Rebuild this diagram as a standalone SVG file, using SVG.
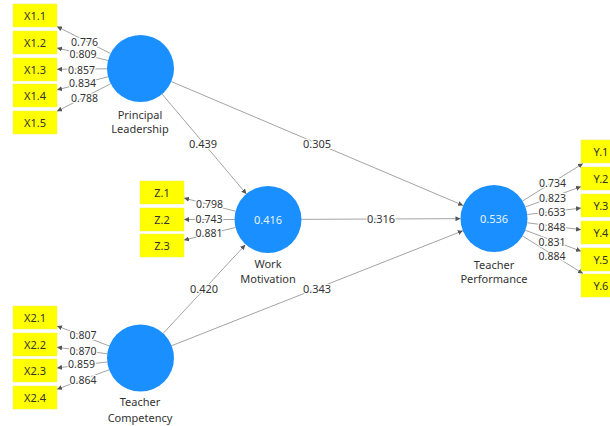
<svg xmlns="http://www.w3.org/2000/svg" width="610" height="426" viewBox="0 0 610 426">
<defs>
<marker id="ah" markerUnits="userSpaceOnUse" markerWidth="5" markerHeight="5" refX="5" refY="2.5" orient="auto">
<path d="M0,0 L5,2.5 L0,5 z" fill="#555"/>
</marker>
<style>
text{font-family:"Noto Sans","Liberation Sans",sans-serif;font-size:11px;fill:#333;text-anchor:middle}
.box{fill:#ffff00;stroke:#eeee44;stroke-width:0.5}
.lv{fill:#1a8fff}
.r2{fill:#e6f2ff}
.ln{stroke:#8c8c8c;stroke-width:0.8;fill:none;marker-end:url(#ah)}
.lbl{paint-order:stroke;stroke:#fff;stroke-width:2.5px;stroke-linejoin:round}
.ld{font-size:10.5px}
</style>
</defs>
<rect width="610" height="426" fill="#fff"/>
<g id="connectors">
<line class="ln" x1="110.56" y1="53.46" x2="57" y2="26.55"/>
<line class="ln" x1="107.97" y1="60.48" x2="57" y2="47.92"/>
<line class="ln" x1="107" y1="68.82" x2="57" y2="69.29"/>
<line class="ln" x1="108.05" y1="76.81" x2="57" y2="89.87"/>
<line class="ln" x1="110.68" y1="83.76" x2="57" y2="111.24"/>
<line class="ln" x1="235.53" y1="211.23" x2="184" y2="198.1"/>
<line class="ln" x1="234.5" y1="219.5" x2="184" y2="219.5"/>
<line class="ln" x1="235.46" y1="227.48" x2="184" y2="240.1"/>
<line class="ln" x1="109.23" y1="345.99" x2="57" y2="325.94"/>
<line class="ln" x1="107.27" y1="353.75" x2="57" y2="347.31"/>
<line class="ln" x1="107.23" y1="361.94" x2="57" y2="367.89"/>
<line class="ln" x1="109.13" y1="369.75" x2="57" y2="389.26"/>
<line class="ln" x1="522.54" y1="200.96" x2="583" y2="163.5"/>
<line class="ln" x1="525.45" y1="206.96" x2="581" y2="186.6"/>
<line class="ln" x1="527.26" y1="214.53" x2="581" y2="208.1"/>
<line class="ln" x1="527.23" y1="222.77" x2="581" y2="229.7"/>
<line class="ln" x1="525.35" y1="230.29" x2="581" y2="251.2"/>
<line class="ln" x1="522.54" y1="236.04" x2="583" y2="273.5"/>
<line class="ln" x1="162.11" y1="94.1" x2="246.39" y2="193.9"/>
<line class="ln" x1="171.34" y1="81.59" x2="463.16" y2="205.41"/>
<line class="ln" x1="301.5" y1="219.35" x2="460.5" y2="218.65"/>
<line class="ln" x1="163.19" y1="333.35" x2="245.31" y2="244.85"/>
<line class="ln" x1="171.66" y1="345.7" x2="462.84" y2="230.8"/>
<text class="lbl ld" x="84.5" y="45.5">0.776</text>
<text class="lbl ld" x="83" y="58">0.809</text>
<text class="lbl ld" x="81.5" y="74">0.857</text>
<text class="lbl ld" x="82.5" y="87">0.834</text>
<text class="lbl ld" x="84.5" y="102">0.788</text>
<text class="lbl ld" x="209.5" y="207.5">0.798</text>
<text class="lbl ld" x="209" y="223">0.743</text>
<text class="lbl ld" x="209" y="237">0.881</text>
<text class="lbl ld" x="83" y="338.5">0.807</text>
<text class="lbl ld" x="83" y="355">0.870</text>
<text class="lbl ld" x="81.5" y="368">0.859</text>
<text class="lbl ld" x="83" y="384">0.864</text>
<text class="lbl ld" x="552.5" y="187">0.734</text>
<text class="lbl ld" x="552.5" y="202">0.823</text>
<text class="lbl ld" x="552" y="216">0.633</text>
<text class="lbl ld" x="552" y="231">0.848</text>
<text class="lbl ld" x="552" y="246">0.831</text>
<text class="lbl ld" x="552" y="260">0.884</text>
<text class="lbl" x="203" y="148">0.439</text>
<text class="lbl" x="317" y="148">0.305</text>
<text class="lbl" x="381" y="223">0.316</text>
<text class="lbl" x="204" y="293">0.420</text>
<text class="lbl" x="317" y="293">0.343</text>
</g>
<g id="X1.1"><rect class="box" x="13" y="4" width="44" height="23"/><text x="35" y="19.5">X1.1</text></g>
<g id="X1.2"><rect class="box" x="13" y="31" width="44" height="23"/><text x="35" y="46.5">X1.2</text></g>
<g id="X1.3"><rect class="box" x="13" y="58" width="44" height="23"/><text x="35" y="73.5">X1.3</text></g>
<g id="X1.4"><rect class="box" x="13" y="84" width="44" height="23"/><text x="35" y="99.5">X1.4</text></g>
<g id="X1.5"><rect class="box" x="13" y="111" width="44" height="23"/><text x="35" y="126.5">X1.5</text></g>
<g id="Z.1"><rect class="box" x="140" y="181" width="44" height="23"/><text x="162" y="196.5">Z.1</text></g>
<g id="Z.2"><rect class="box" x="140" y="208" width="44" height="23"/><text x="162" y="223.5">Z.2</text></g>
<g id="Z.3"><rect class="box" x="140" y="234" width="44" height="23"/><text x="162" y="249.5">Z.3</text></g>
<g id="X2.1"><rect class="box" x="13" y="306" width="44" height="23"/><text x="35" y="321.5">X2.1</text></g>
<g id="X2.2"><rect class="box" x="13" y="333" width="44" height="23"/><text x="35" y="348.5">X2.2</text></g>
<g id="X2.3"><rect class="box" x="13" y="359" width="44" height="23"/><text x="35" y="374.5">X2.3</text></g>
<g id="X2.4"><rect class="box" x="13" y="386" width="44" height="23"/><text x="35" y="401.5">X2.4</text></g>
<g id="Y.1"><rect class="box" x="581" y="140" width="44" height="23"/><text x="601" y="155.5">Y.1</text></g>
<g id="Y.2"><rect class="box" x="581" y="167" width="44" height="23"/><text x="601" y="182.5">Y.2</text></g>
<g id="Y.3"><rect class="box" x="581" y="194" width="44" height="23"/><text x="601" y="209.5">Y.3</text></g>
<g id="Y.4"><rect class="box" x="581" y="221" width="44" height="23"/><text x="601" y="236.5">Y.4</text></g>
<g id="Y.5"><rect class="box" x="581" y="248" width="44" height="23"/><text x="601" y="263.5">Y.5</text></g>
<g id="Y.6"><rect class="box" x="581" y="274" width="44" height="23"/><text x="601" y="289.5">Y.6</text></g>
<g id="PrincipalLeadership"><circle class="lv" cx="140.5" cy="68.5" r="33.5"/><text x="140" y="119">Principal</text><text x="140" y="133">Leadership</text></g>
<g id="WorkMotivation"><circle class="lv" cx="268" cy="219.5" r="33.5"/><text class="r2" x="268" y="223.5">0.416</text><text x="268" y="268">Work</text><text x="268" y="283">Motivation</text></g>
<g id="TeacherCompetency"><circle class="lv" cx="140.5" cy="358" r="33.5"/><text x="140" y="406">Teacher</text><text x="140" y="422">Competency</text></g>
<g id="TeacherPerformance"><circle class="lv" cx="494" cy="218.5" r="33.5"/><text class="r2" x="494" y="222.5">0.536</text><text x="494" y="269">Teacher</text><text x="494" y="283">Performance</text></g>
</svg>
